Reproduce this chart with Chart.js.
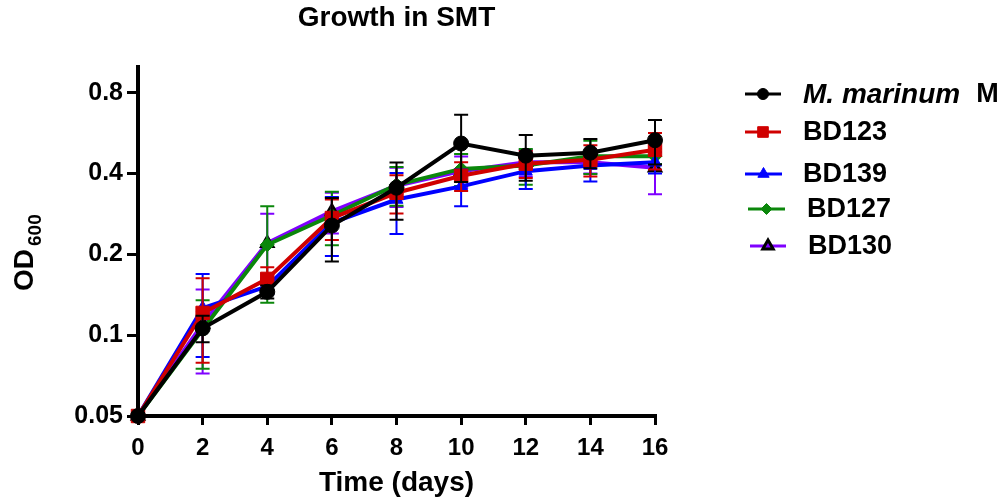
<!DOCTYPE html>
<html>
<head>
<meta charset="utf-8">
<title>Growth in SMT</title>
<script src="https://cdn.jsdelivr.net/npm/chart.js@4.4.0/dist/chart.umd.min.js"></script>
<style>
  html, body { margin: 0; padding: 0; background: #fff; }
  #wrap { width: 998px; height: 502px; }
</style>
</head>
<body>
<div id="wrap"><canvas id="growthChart" width="998" height="502"></canvas></div>
<script>
// ---------- data ----------
const days = [0, 2, 4, 6, 8, 10, 12, 14, 16];
const yTickValues = [0.05, 0.1, 0.2, 0.4, 0.8];

const seriesNames = ["M. marinum M", "BD123", "BD139", "BD127", "BD130"];

const marinumMean = [0.05, 0.106, 0.145, 0.256, 0.354, 0.517, 0.466, 0.478, 0.532];
const marinumSd   = [0, 0.012, 0.008, 0.068, 0.085, 0.145, 0.09, 0.06, 0.1];

const bd123Mean = [0.05, 0.121, 0.162, 0.273, 0.339, 0.392, 0.435, 0.45, 0.49];
const bd123Sd   = [0, 0.042, 0.017, 0.047, 0.055, 0.048, 0.05, 0.06, 0.076];

const bd139Mean = [0.05, 0.126, 0.152, 0.262, 0.32, 0.358, 0.408, 0.428, 0.44];
const bd139Sd   = [0, 0.043, 0.01, 0.065, 0.082, 0.056, 0.058, 0.055, 0.04];

const bd127Mean = [0.05, 0.105, 0.217, 0.279, 0.363, 0.416, 0.428, 0.464, 0.464];
const bd127Sd   = [0, 0.03, 0.085, 0.063, 0.06, 0.057, 0.065, 0.066, 0.03];

const bd130Mean = [0.05, 0.11, 0.22, 0.289, 0.36, 0.408, 0.44, 0.44, 0.42];
const bd130Sd   = [0, 0.038, 0.063, 0.05, 0.06, 0.055, 0.05, 0.04, 0.085];

// ---------- styles ----------
const FONT = "'Liberation Sans', Arial, Helvetica, sans-serif";
Chart.defaults.font.family = FONT;
Chart.defaults.color = "#000";

const BLACK = "#000000";
const RED = "#d00000";
const BLUE = "#0000ff";
const GREEN = "#0b870b";
const PURPLE = "#7f00ff";

function toPoints(means) {
  return days.map((d, i) => ({ x: d, y: means[i] }));
}

function makeSeries(label, means, sds, color, style, radius, extra) {
  return Object.assign({
    label: label,
    data: toPoints(means),
    errors: sds,
    borderColor: color,
    backgroundColor: color,
    borderWidth: 4,
    pointStyle: style,
    pointRadius: radius,
    pointHoverRadius: radius,
    pointBackgroundColor: color,
    pointBorderColor: color,
    pointBorderWidth: 1,
    tension: 0,
    clip: false
  }, extra || {});
}

const datasets = [
  makeSeries(seriesNames[0], marinumMean, marinumSd, BLACK, "circle", 7.5),
  makeSeries(seriesNames[1], bd123Mean, bd123Sd, RED, "rect", 9.5),
  makeSeries(seriesNames[2], bd139Mean, bd139Sd, BLUE, "triangle", 7.5),
  makeSeries(seriesNames[3], bd127Mean, bd127Sd, GREEN, "rectRot", 7),
  makeSeries(seriesNames[4], bd130Mean, bd130Sd, PURPLE, "triangle", 6.5, {
    pointBorderColor: BLACK,
    pointBorderWidth: 3
  })
];

// ---------- plugins ----------
// error bars (mean ± SD) drawn right after each dataset so stacking matches
const errorBars = {
  id: "errorBars",
  afterDatasetDraw(chart, args) {
    const ds = chart.data.datasets[args.index];
    if (!ds.errors) return;
    const yScale = chart.scales.y;
    const ctx = chart.ctx;
    const cap = 7;
    ctx.save();
    ctx.strokeStyle = ds.borderColor;
    ctx.lineWidth = 2;
    args.meta.data.forEach((pt, i) => {
      const v = ds.data[i].y;
      const e = ds.errors[i];
      if (!e) return;
      const yTop = yScale.getPixelForValue(v + e);
      const yBot = yScale.getPixelForValue(v - e);
      ctx.beginPath();
      ctx.moveTo(pt.x, yTop);
      ctx.lineTo(pt.x, yBot);
      ctx.moveTo(pt.x - cap, yTop);
      ctx.lineTo(pt.x + cap, yTop);
      ctx.moveTo(pt.x - cap, yBot);
      ctx.lineTo(pt.x + cap, yBot);
      ctx.stroke();
    });
    ctx.restore();
  }
};

// y axis title with subscript: OD600
const yAxisTitle = {
  id: "yAxisTitle",
  afterDraw(chart) {
    const ctx = chart.ctx;
    ctx.save();
    ctx.translate(33, 291);
    ctx.rotate(-Math.PI / 2);
    ctx.fillStyle = "#000";
    ctx.textBaseline = "alphabetic";
    ctx.textAlign = "left";
    ctx.font = "bold 28px " + FONT;
    ctx.fillText("OD", 0, 0);
    const w = ctx.measureText("OD").width;
    ctx.font = "bold 19px " + FONT;
    ctx.fillText("600", w + 3, 8);
    ctx.restore();
  }
};

// legend on the right, first label partly italic
const sideLegend = {
  id: "sideLegend",
  afterDraw(chart) {
    const ctx = chart.ctx;
    const rowsY = [94, 132, 174, 209, 246];
    const lineX = [[745, 781], [745, 781], [745, 782], [748, 785], [750, 786]];
    const textX = [803, 803, 803, 807, 808];
    const markerR = [5.5, 7.5, 6.5, 5.5, 6];
    ctx.save();
    chart.data.datasets.forEach((ds, i) => {
      const y = rowsY[i];
      const [x1, x2] = lineX[i];
      ctx.strokeStyle = ds.borderColor;
      ctx.lineWidth = 3;
      ctx.beginPath();
      ctx.moveTo(x1, y);
      ctx.lineTo(x2, y);
      ctx.stroke();
      ctx.fillStyle = ds.pointBackgroundColor;
      ctx.strokeStyle = ds.pointBorderColor;
      ctx.lineWidth = ds.pointBorderWidth;
      Chart.helpers.drawPoint(ctx, {
        pointStyle: ds.pointStyle,
        radius: markerR[i],
        borderWidth: ds.pointBorderWidth,
        rotation: 0
      }, (x1 + x2) / 2, y);

      ctx.fillStyle = "#000";
      ctx.textBaseline = "middle";
      ctx.textAlign = "left";
      const label = ds.label;
      const italicPart = "M. marinum";
      if (label.startsWith(italicPart)) {
        ctx.font = "italic bold 28px " + FONT;
        ctx.fillText(italicPart, textX[i], y + 1);
        const w = ctx.measureText(italicPart).width;
        ctx.font = "bold 27px " + FONT;
        ctx.fillText(label.slice(italicPart.length).trim(), textX[i] + w + 16, y + 1);
      } else {
        ctx.font = "bold 27px " + FONT;
        ctx.fillText(label, textX[i], y + 1);
      }
    });
    ctx.restore();
  }
};

// ---------- chart ----------
const ctx = document.getElementById("growthChart");

new Chart(ctx, {
  type: "line",
  data: { datasets: datasets },
  options: {
    responsive: false,
    animation: false,
    devicePixelRatio: 1,
    layout: {
      padding: { left: 0, right: 343, top: 0, bottom: 0 }
    },
    plugins: {
      legend: { display: false },
      tooltip: { enabled: false },
      title: {
        display: true,
        text: "Growth in SMT",
        fullSize: false,
        color: "#000",
        font: { size: 28, weight: "bold" },
        padding: { top: 1, bottom: 32 }
      }
    },
    scales: {
      x: {
        type: "linear",
        min: 0,
        max: 16,
        afterFit: (scale) => { scale.height = 86; },
        afterBuildTicks: (scale) => {
          scale.ticks = days.map((d) => ({ value: d }));
        },
        ticks: {
          color: "#000",
          font: { size: 24, weight: "bold" },
          padding: 9,
          maxRotation: 0
        },
        grid: {
          display: true,
          drawOnChartArea: false,
          drawTicks: true,
          tickLength: 9,
          lineWidth: 3,
          color: "#000"
        },
        border: { display: true, color: "#000", width: 4 },
        title: {
          display: true,
          text: "Time (days)",
          color: "#000",
          font: { size: 28, weight: "bold" },
          padding: { top: 0, bottom: 2 }
        }
      },
      y: {
        type: "logarithmic",
        min: 0.05,
        max: 1.0,
        afterFit: (scale) => { scale.width = 138; },
        afterBuildTicks: (scale) => {
          scale.ticks = yTickValues.map((v) => ({ value: v }));
        },
        ticks: {
          color: "#000",
          font: { size: 25, weight: "bold" },
          padding: 4,
          callback: (value) => String(value)
        },
        grid: {
          display: true,
          drawOnChartArea: false,
          drawTicks: true,
          tickLength: 11,
          lineWidth: 3,
          color: "#000"
        },
        border: { display: true, color: "#000", width: 4 }
      }
    }
  },
  plugins: [errorBars, yAxisTitle, sideLegend]
});
</script>
</body>
</html>
